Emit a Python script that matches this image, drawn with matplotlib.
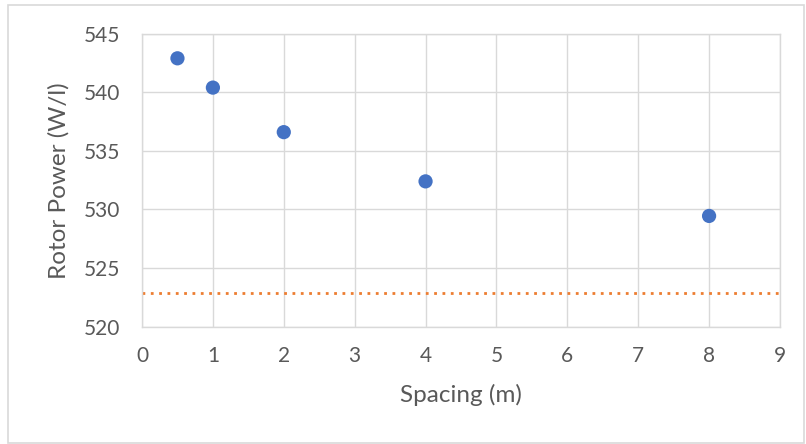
import matplotlib.pyplot as plt
from matplotlib.patches import Rectangle

# data
spacing = [0.5, 1, 2, 4, 8]
rotor_power = [542.9, 540.4, 536.6, 532.4, 529.45]
baseline_power = 522.9

x_ticks = [0, 1, 2, 3, 4, 5, 6, 7, 8, 9]
y_ticks = [520, 525, 530, 535, 540, 545]

plt.rcParams['font.family'] = ['Lato', 'DejaVu Sans']

fig = plt.figure(figsize=(8.06, 4.44), dpi=100)
ax = fig.add_axes([0.1762, 0.2642, 0.7915, 0.6599])

# grey frame round the whole chart
fig.patches.append(Rectangle((8 / 806, 0.002), 0.997 - 8 / 806, 1 - 5 / 444 - 0.002,
                             transform=fig.transFigure, fill=False,
                             edgecolor='#d9d9d9', linewidth=1.2))

ax.axhline(baseline_power, color='#ED7D31', linestyle=(0, (1, 2)),
           linewidth=2, zorder=2)
ax.scatter(spacing, rotor_power, s=105, color='#4472C4', zorder=3,
           edgecolors='none')

ax.set_xlim(0, 9)
ax.set_ylim(520, 545)
ax.set_xticks(x_ticks)
ax.set_yticks(y_ticks)

ax.grid(True, color='#d9d9d9', linewidth=1)
ax.set_axisbelow(True)
for s in ax.spines.values():
    s.set_color('#d9d9d9')
    s.set_linewidth(1)

ax.tick_params(length=0, labelsize=15, colors='#595959')
ax.tick_params(axis='y', pad=16)
ax.tick_params(axis='x', pad=14)

ax.set_xlabel('Spacing (m)', fontsize=17.5, color='#595959', labelpad=13)
ax.set_ylabel('Rotor Power (W/l)', fontsize=17.5, color='#595959', labelpad=10)

fig.savefig('out.png', dpi=100)
